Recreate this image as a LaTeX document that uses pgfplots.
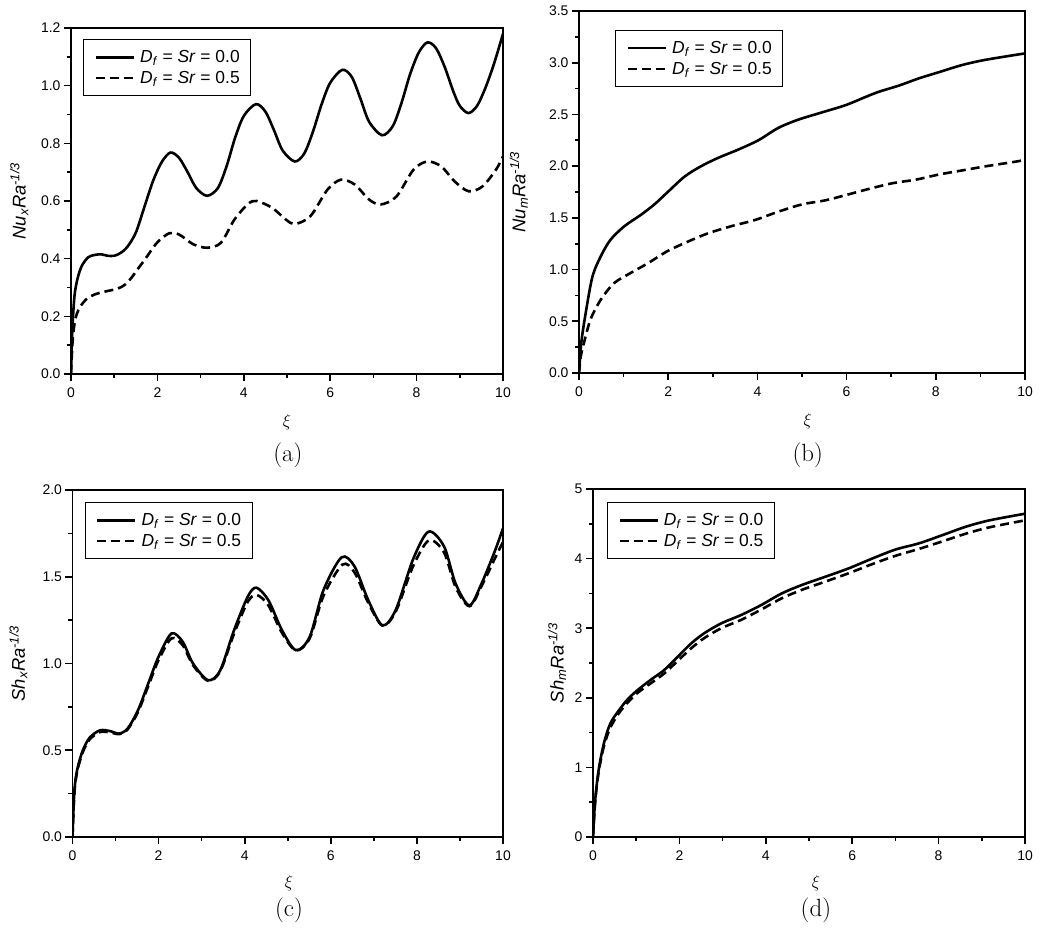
\documentclass[border=0pt]{standalone}
\usepackage{fontspec}
\usepackage{pgfplots}
\pgfplotsset{compat=1.18}
\newfontfamily\arial{Liberation Sans}

\newcommand{\leg}[1]{\textit{D}\textsubscript{\textit{f}} = \textit{Sr} = #1}

\tikzset{figcap/.style={font=\fontsize{25}{28}\selectfont}}
\pgfplotsset{
  panel/.style={
    scale only axis, anchor=south west, clip mode=individual,
    xmin=0, xmax=10, xtick={0,2,...,10}, minor x tick num=1, minor y tick num=1,
    axis line style={line width=1.8bp},
    every tick/.style={line width=1.6bp, black},
    tick align=outside, major tick length=7bp, minor tick length=4bp,
    tick pos=left,
    /pgf/number format/assume math mode=true,
    tick label style={font=\arial\fontsize{14}{16}\selectfont},
    xticklabel style={yshift=-3bp},
    xlabel={$\xi$},
    xlabel style={font=\fontsize{17}{19}\selectfont, anchor=center},
    ylabel style={font=\arial\itshape\fontsize{18.5}{20}\selectfont, anchor=center},
    legend style={draw=black, line width=1bp, fill=white,
      font=\arial\fontsize{17.5}{20}\selectfont, anchor=north west,
      inner xsep=9bp, inner ysep=9bp, row sep=3bp},
    legend cell align=left,
    legend image code/.code={\draw[#1, line width=2.6bp] (0bp,0bp) -- (38bp,0bp); \path (-2bp,0bp) (41bp,0bp);},
  },
  yfix/.style={yticklabel style={/pgf/number format/.cd, fixed, fixed zerofill, precision=1}},
  sol/.style={black, line width=2.6bp, smooth, tension=0.5},
  das/.style={black, line width=2.6bp, smooth, tension=0.5, dash pattern=on 9bp off 5bp},
}

\begin{document}
\begin{tikzpicture}
\useasboundingbox (0bp,0bp) rectangle (1056bp,-938bp);

% (a)
\begin{axis}[panel, yfix, at={(71bp,-374bp)}, width=432bp, height=346bp,
  ymin=0, ymax=1.2, ytick={0,0.2,...,1.2},
  xlabel style={at={(axis description cs:0.5,-0.139)}},
  ylabel={\textit{Nu}\textsubscript{\textit{x}}\textit{Ra}\textsuperscript{\textit{-1/3}}},
  ylabel style={at={(axis description cs:-0.12,0.5)}},
  legend style={at={(axis description cs:0.028,0.968)}}]
\addplot[sol] coordinates {
(0,0) (0.03,0.15) (0.08,0.27) (0.15,0.33) (0.25,0.375) (0.4,0.405) (0.55,0.413)
(0.7,0.415) (0.85,0.41) (1.0,0.41) (1.15,0.42) (1.3,0.44) (1.5,0.49) (1.7,0.58)
(1.9,0.67) (2.1,0.735) (2.3,0.768) (2.5,0.75) (2.7,0.70) (2.9,0.645) (3.15,0.618)
(3.4,0.645) (3.6,0.72) (3.8,0.82) (4.0,0.895) (4.28,0.936) (4.5,0.91) (4.7,0.845)
(4.9,0.775) (5.18,0.737) (5.4,0.765) (5.6,0.84) (5.8,0.935) (6.0,1.01) (6.28,1.055)
(6.5,1.03) (6.7,0.955) (6.9,0.875) (7.2,0.828) (7.45,0.86) (7.65,0.94) (7.85,1.04)
(8.05,1.115) (8.25,1.15) (8.45,1.13) (8.65,1.065) (8.85,0.98) (9.0,0.93) (9.2,0.905)
(9.4,0.93) (9.6,0.995) (9.8,1.08) (10,1.18)};
\addlegendentry{\leg{0.0}}
\addplot[das] coordinates {
(0,0) (0.04,0.12) (0.1,0.19) (0.2,0.23) (0.36,0.26) (0.55,0.276) (0.76,0.285)
(1.08,0.296) (1.25,0.31) (1.4,0.334) (1.55,0.365) (1.71,0.397) (1.99,0.455)
(2.27,0.488) (2.5,0.484) (2.83,0.45) (3.15,0.438) (3.47,0.455) (3.78,0.535)
(4.1,0.59) (4.3,0.6) (4.66,0.576) (4.98,0.535) (5.18,0.52) (5.54,0.547)
(5.94,0.64) (6.25,0.674) (6.57,0.657) (6.9,0.605) (7.17,0.588) (7.53,0.615)
(7.93,0.709) (8.25,0.737) (8.57,0.72) (8.88,0.668) (9.2,0.634) (9.52,0.65)
(9.84,0.709) (10,0.755)};
\addlegendentry{\leg{0.5}}
\node[figcap] at (axis description cs:0.502,-0.234) {(a)};
\end{axis}

% (b)
\begin{axis}[panel, yfix, at={(579bp,-373bp)}, width=446bp, height=362bp,
  ymin=0, ymax=3.5, ytick={0,0.5,...,3.5},
  xlabel style={at={(axis description cs:0.513,-0.133)}},
  ylabel={\textit{Nu}\textsubscript{\textit{m}}\textit{Ra}\textsuperscript{\textit{-1/3}}},
  ylabel style={at={(axis description cs:-0.135,0.5)}},
  legend style={at={(axis description cs:0.081,0.948)}}]
\addplot[sol] coordinates {
(0,0) (0.05,0.29) (0.15,0.58) (0.3,0.93) (0.49,1.13) (0.71,1.29) (1.02,1.42)
(1.39,1.53) (1.69,1.63) (1.99,1.75) (2.37,1.90) (2.74,2.0) (3.12,2.08) (3.57,2.16)
(4.02,2.25) (4.47,2.37) (4.92,2.45) (5.45,2.52) (5.98,2.59) (6.43,2.67) (6.73,2.72)
(7.18,2.78) (7.63,2.85) (8.08,2.91) (8.61,2.98) (9.14,3.03) (10,3.09)};
\addlegendentry{\leg{0.0}}
\addplot[das] coordinates {
(0,0) (0.04,0.16) (0.11,0.29) (0.26,0.52) (0.49,0.71) (0.79,0.87) (1.17,0.97)
(1.54,1.06) (1.99,1.18) (2.44,1.27) (2.89,1.35) (3.42,1.42) (3.95,1.48) (4.47,1.56)
(5.0,1.63) (5.53,1.67) (5.98,1.72) (6.5,1.78) (7.03,1.835) (7.56,1.87) (8.08,1.92)
(8.61,1.96) (9.14,2.0) (9.74,2.04) (10,2.06)};
\addlegendentry{\leg{0.5}}
\node[figcap] at (axis description cs:0.513,-0.227) {(b)};
\end{axis}

% (c)
\begin{axis}[panel, yfix, at={(72.5bp,-837bp)}, width=430.5bp, height=347bp,
  ymin=0, ymax=2, ytick={0,0.5,...,2},
  xlabel style={at={(axis description cs:0.503,-0.133)}},
  ylabel={\textit{Sh}\textsubscript{\textit{x}}\textit{Ra}\textsuperscript{\textit{-1/3}}},
  ylabel style={at={(axis description cs:-0.126,0.5)}},
  legend style={at={(axis description cs:0.028,0.965)}}]
\addplot[sol] coordinates {
(0,0) (0.03,0.2) (0.06,0.31) (0.12,0.40) (0.24,0.5) (0.4,0.573) (0.64,0.615)
(0.88,0.61) (1.08,0.596) (1.28,0.625) (1.52,0.73) (1.76,0.885) (2.0,1.04)
(2.3,1.173) (2.56,1.125) (2.8,1.0) (3.15,0.904) (3.43,0.96) (3.75,1.19) (4.07,1.385)
(4.27,1.437) (4.55,1.365) (4.87,1.19) (5.19,1.077) (5.51,1.154) (5.83,1.423)
(6.25,1.612) (6.55,1.56) (6.87,1.365) (7.2,1.22) (7.51,1.31) (7.91,1.6)
(8.27,1.76) (8.63,1.675) (8.9,1.46) (9.22,1.335) (9.5,1.46) (9.82,1.654) (10,1.78)};
\addlegendentry{\leg{0.0}}
\addplot[das] coordinates {
(0,0) (0.03,0.19) (0.06,0.3) (0.12,0.39) (0.24,0.49) (0.4,0.563) (0.64,0.605)
(0.88,0.603) (1.08,0.593) (1.28,0.62) (1.52,0.72) (1.76,0.87) (2.0,1.02)
(2.3,1.145) (2.56,1.105) (2.8,0.99) (3.15,0.9) (3.43,0.955) (3.75,1.17) (4.07,1.355)
(4.28,1.395) (4.55,1.335) (4.87,1.175) (5.19,1.075) (5.51,1.145) (5.83,1.39)
(6.27,1.57) (6.55,1.525) (6.87,1.35) (7.2,1.218) (7.51,1.3) (7.91,1.56)
(8.28,1.71) (8.63,1.64) (8.9,1.44) (9.22,1.33) (9.5,1.445) (9.82,1.61) (10,1.70)};
\addlegendentry{\leg{0.5}}
\node[figcap] at (axis description cs:0.503,-0.21) {(c)};
\end{axis}

% (d)
\begin{axis}[panel, at={(593bp,-837bp)}, width=432bp, height=348bp,
  ymin=0, ymax=5, ytick={0,1,...,5},
  xlabel style={at={(axis description cs:0.516,-0.132)}},
  ylabel={\textit{Sh}\textsubscript{\textit{m}}\textit{Ra}\textsuperscript{\textit{-1/3}}},
  ylabel style={at={(axis description cs:-0.083,0.5)}},
  legend style={at={(axis description cs:0.032,0.963)}}]
\addplot[sol] coordinates {
(0,0) (0.05,0.53) (0.13,0.96) (0.25,1.34) (0.4,1.63) (0.6,1.82) (0.79,1.97)
(1.03,2.11) (1.34,2.26) (1.65,2.40) (1.96,2.59) (2.27,2.78) (2.58,2.93) (2.97,3.07)
(3.43,3.19) (3.9,3.335) (4.37,3.50) (4.83,3.62) (5.38,3.74) (5.92,3.86) (6.46,4.0)
(7.0,4.13) (7.55,4.22) (8.1,4.34) (8.64,4.46) (9.18,4.55) (10,4.645)};
\addlegendentry{\leg{0.0}}
\addplot[das] coordinates {
(0,0) (0.05,0.5) (0.13,0.93) (0.25,1.3) (0.4,1.57) (0.6,1.78) (0.8,1.93)
(1.03,2.07) (1.34,2.21) (1.65,2.35) (1.96,2.53) (2.27,2.71) (2.58,2.86) (2.97,3.0)
(3.43,3.12) (3.9,3.27) (4.37,3.43) (4.83,3.55) (5.38,3.67) (5.92,3.79) (6.46,3.92)
(7.0,4.04) (7.55,4.14) (8.1,4.25) (8.64,4.36) (9.18,4.45) (10,4.55)};
\addlegendentry{\leg{0.5}}
\node[figcap] at (axis description cs:0.516,-0.21) {(d)};
\end{axis}
\end{tikzpicture}
\end{document}
